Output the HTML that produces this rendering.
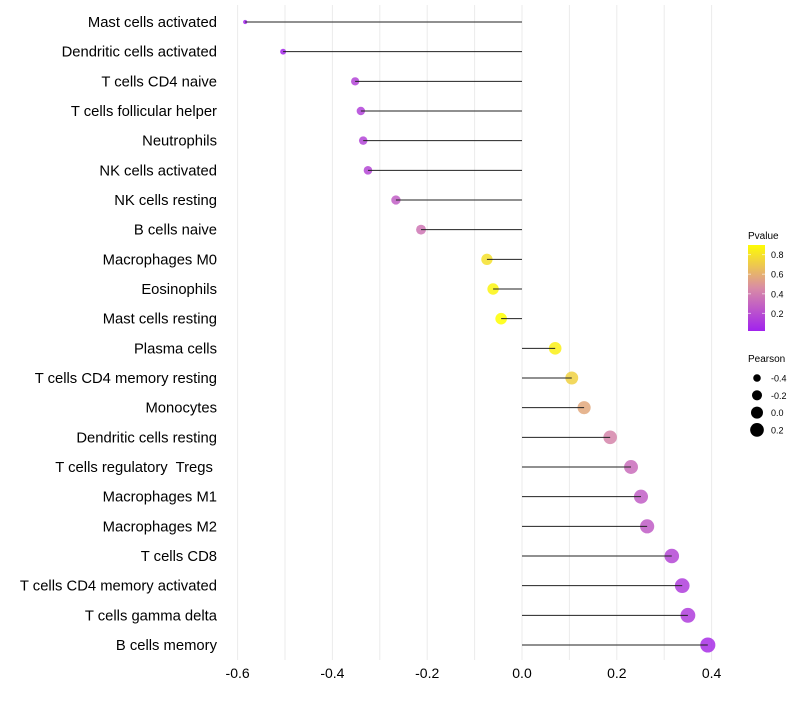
<!DOCTYPE html>
<html><head><meta charset="utf-8"><style>
body{margin:0;background:#fff;}
svg{font-family:"Liberation Sans",sans-serif;}
text{white-space:pre;}
</style></head><body>
<svg id="chart" width="800" height="700"></svg>
<script>
const categories=["Mast cells activated","Dendritic cells activated","T cells CD4 naive","T cells follicular helper","Neutrophils","NK cells activated","NK cells resting","B cells naive","Macrophages M0","Eosinophils","Mast cells resting","Plasma cells","T cells CD4 memory resting","Monocytes","Dendritic cells resting","T cells regulatory  Tregs ","Macrophages M1","Macrophages M2","T cells CD8","T cells CD4 memory activated","T cells gamma delta","B cells memory"];
const pearson=[-0.584,-0.504,-0.352,-0.340,-0.335,-0.325,-0.266,-0.213,-0.074,-0.061,-0.044,0.070,0.105,0.131,0.186,0.230,0.251,0.264,0.316,0.338,0.350,0.392];
const pvalue=[0.02,0.03,0.15,0.14,0.15,0.16,0.26,0.36,0.78,0.86,0.9,0.84,0.72,0.56,0.42,0.32,0.26,0.25,0.16,0.12,0.12,0.06];
const xTicks=[-0.6,-0.4,-0.2,0.0,0.2,0.4];
const pTicks=[0.2,0.4,0.6,0.8];
const sizeTicks=[-0.4,-0.2,0.0,0.2];
const NS="http://www.w3.org/2000/svg";
const svg=document.getElementById('chart');
function mk(tag,attrs,parent){const e=document.createElementNS(NS,tag);for(const k in attrs)e.setAttribute(k,attrs[k]);(parent||svg).appendChild(e);return e;}
const xS=v=>522+474*v;
const yS=i=>22+i*(623/21);
const rS=v=>Math.sqrt(Math.max(2,36+54*v));
function lerp(a,b,t){return a.map((x,i)=>Math.round(x+(b[i]-x)*t));}
function col(p){const t=Math.max(0,Math.min(1,p/0.9));const A=[160,32,240],B=[217,140,165],C=[255,255,0];
 const c=t<0.5?lerp(A,B,t/0.5):lerp(B,C,(t-0.5)/0.5);return `rgb(${c[0]},${c[1]},${c[2]})`;}
for(let v=-0.6;v<=0.41;v+=0.1){const g=mk('line',{x1:xS(v),x2:xS(v),y1:5,y2:660,stroke:'#ebebeb','stroke-width':1});
}
xTicks.forEach(v=>{const t=mk('text',{x:xS(v),y:678,'text-anchor':'middle','font-size':14,fill:'#000'});t.textContent=v.toFixed(1);
});
categories.forEach((c,i)=>{const y=yS(i);
 const t=mk('text',{x:217,y:y+5,'text-anchor':'end','font-size':14.8,fill:'#000'});t.textContent=c;
 
 const p=mk('circle',{cx:xS(pearson[i]),cy:y,r:rS(pearson[i]),fill:col(pvalue[i]),'fill-opacity':0.85});
 
 const l=mk('line',{x1:xS(pearson[i]),x2:xS(0),y1:y,y2:y,stroke:'#222','stroke-width':1});
 
});
const lg=mk('g',{});
const defs=mk('defs',{});const gr=mk('linearGradient',{id:'pg',x1:0,y1:1,x2:0,y2:0},defs);
[0,0.25,0.5,0.75,1].forEach(s=>mk('stop',{offset:s,'stop-color':col(0.01+s*0.88)},gr));
let t=mk('text',{x:748,y:239,'font-size':10},lg);t.textContent='Pvalue';
mk('rect',{x:748,y:245,width:17,height:86,fill:'url(#pg)'},lg);
const pY=p=>333-98*p;
pTicks.forEach(p=>{mk('line',{x1:748,x2:751,y1:pY(p),y2:pY(p),stroke:'#fff','stroke-opacity':0.6},lg);mk('line',{x1:762,x2:765,y1:pY(p),y2:pY(p),stroke:'#fff','stroke-opacity':0.6},lg);
 const e=mk('text',{x:771,y:pY(p)+3.5,'font-size':9},lg);e.textContent=p.toFixed(1);});
t=mk('text',{x:748,y:362,'font-size':10},lg);t.textContent='Pearson';
sizeTicks.forEach((s,i)=>{const y=378+i*17.3;mk('circle',{cx:757,cy:y,r:rS(s),fill:'#000'},lg);
 const e=mk('text',{x:771,y:y+3.5,'font-size':9},lg);e.textContent=s.toFixed(1);});
</script>
</body></html>
